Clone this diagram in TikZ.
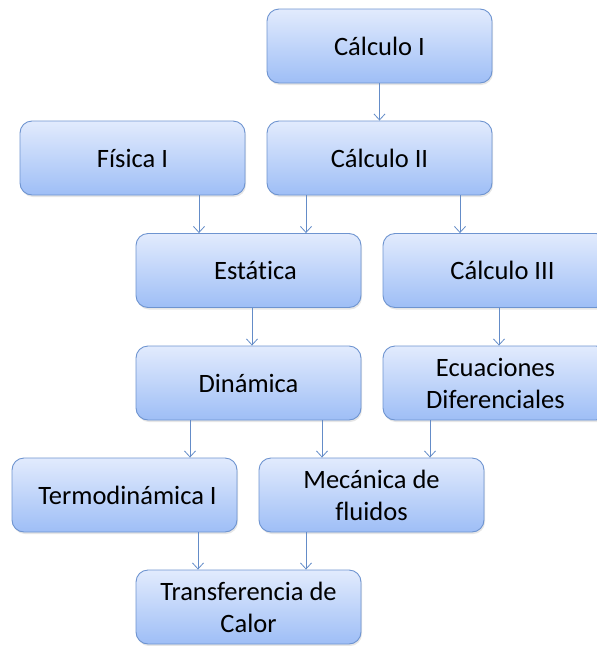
\documentclass[tikz,border=0pt]{standalone}
\usepackage{fontspec}
\setmainfont[Ligatures=NoCommon]{Carlito}
\usetikzlibrary{shadows,arrows.meta}

\definecolor{cajaArriba}{RGB}{226,235,253}
\definecolor{cajaAbajo}{RGB}{158,190,246}
\definecolor{borde}{RGB}{110,148,208}
\definecolor{flechaAzul}{RGB}{100,140,200}

\tikzset{
  materia/.style={rectangle,rounded corners=12pt,draw=borde,line width=0.9pt,
    top color=cajaArriba,bottom color=cajaAbajo,
    minimum width=225pt,minimum height=74pt,align=center,
    font=\fontsize{26.5}{32}\selectfont,
    drop shadow={opacity=0.2,shadow xshift=1pt,shadow yshift=-2pt}},
  flecha/.style={-{Straight Barb[length=6pt,width=11pt]},draw=flechaAzul,line width=0.8pt}
}

\begin{document}
\begin{tikzpicture}[x=1pt,y=-1pt]
    \useasboundingbox (0,0) rectangle (597,646);
    \clip (0,0) rectangle (597,646);

    \node[materia] (calcI) at (379.5,46) {Cálculo I};
    \node[materia] (fisicaI) at (132.5,158) {Física I};
    \node[materia] (calcII) at (379.5,158) {Cálculo II};
    \node[materia] (estatica) at (248.5,270.5) {\hspace{14pt}Estática};
    \node[materia] (calcIII) at (495.5,270.5) {\hspace{14pt}Cálculo III};
    \node[materia] (dinamica) at (248.5,383) {Dinámica};
    \node[materia] (ecuaciones) at (495.5,383) {Ecuaciones\\Diferenciales};
    \node[materia] (termo) at (124.5,495) {\hspace{6pt}Termodinámica I};
    \node[materia] (mecanica) at (371.5,495) {Mecánica de\\fluidos};
    \node[materia] (transferencia) at (248.5,607) {Transferencia de\\Calor};

    % prerrequisitos
    \draw[flecha] (calcI.south) -- (calcII.north);
    \draw[flecha] ([xshift=66.5pt]fisicaI.south) -- ([xshift=-49.5pt]estatica.north);
    \draw[flecha] ([xshift=-73.5pt]calcII.south) -- ([xshift=57.5pt]estatica.north);
    \draw[flecha] ([xshift=80.5pt]calcII.south) -- ([xshift=-35.5pt]calcIII.north);
    \draw[flecha] ([xshift=3.5pt]estatica.south) -- ([xshift=3.5pt]dinamica.north);
    \draw[flecha] ([xshift=3.5pt]calcIII.south) -- ([xshift=3.5pt]ecuaciones.north);
    \draw[flecha] ([xshift=-58.5pt]dinamica.south) -- ([xshift=65.5pt]termo.north);
    \draw[flecha] ([xshift=73.5pt]dinamica.south) -- ([xshift=-49.5pt]mecanica.north);
    \draw[flecha] ([xshift=-65.5pt]ecuaciones.south) -- ([xshift=58.5pt]mecanica.north);
    \draw[flecha] ([xshift=73.5pt]termo.south) -- ([xshift=-50.5pt]transferencia.north);
    \draw[flecha] ([xshift=-65.5pt]mecanica.south) -- ([xshift=57.5pt]transferencia.north);

\end{tikzpicture}
\end{document}
